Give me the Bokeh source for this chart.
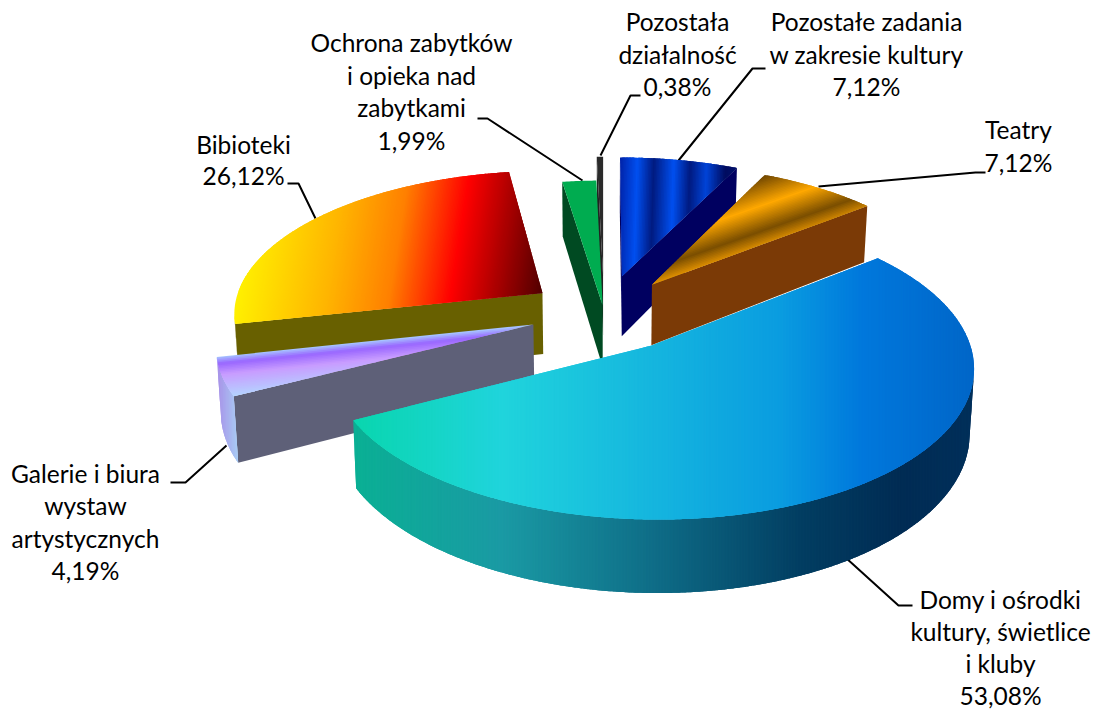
import math
from bokeh.plotting import figure
from bokeh.models import Range1d
from bokeh.core.properties import value
from bokeh.embed import file_html
from bokeh.resources import INLINE

# ---- data (clockwise from 12 o'clock) ----
categories = ["Pozostałe zadania\nw zakresie kultury", "Teatry",
              "Domy i ośrodki\nkultury, świetlice\ni kluby",
              "Galerie i biura\nwystaw\nartystycznych", "Bibioteki",
              "Ochrona zabytków\ni opieka nad\nzabytkami", "Pozostała\ndziałalność"]
shares = [7.12, 7.12, 53.08, 4.19, 26.12, 1.99, 0.38]
explode = [0.27, 0.255, 0.27, 0.24, 0.245, 0.05, 0.27]

# ---- 3-D pie projection ----
CX, CY, RX, RY, H, K, TAPER = 603.5, 312.0, 310.0, 142.5, 62.0, 0.1275, 0.012

def proj(X, Y, z=0.0):
    p = 1.0 / (1.0 + K * Y)
    q = 1.0 - TAPER * z
    return (CX + RX * X * p * q, CY - RY * Y * p + H * p * z)

def rgb(h):
    return tuple(int(h[i:i + 2], 16) for i in (1, 3, 5))

def ramp(stops, f):
    f = min(1.0, max(0.0, f))
    for (f0, c0), (f1, c1) in zip(stops, stops[1:]):
        if f <= f1:
            w = (f - f0) / max(f1 - f0, 1e-9)
            a, b = rgb(c0), rgb(c1)
            return "#%02x%02x%02x" % tuple(round(a[i] + (b[i] - a[i]) * w) for i in range(3))
    return stops[-1][1]

def clip(poly, nx, ny, t, keep_above):
    out = []
    s = 1 if keep_above else -1
    for i in range(len(poly)):
        a, b = poly[i], poly[(i + 1) % len(poly)]
        da = s * (a[0] * nx + a[1] * ny - t)
        db = s * (b[0] * nx + b[1] * ny - t)
        if da >= 0:
            out.append(a)
        if (da >= 0) != (db >= 0):
            w = da / (da - db)
            out.append((a[0] + (b[0] - a[0]) * w, a[1] + (b[1] - a[1]) * w))
    return out

def area(q):
    return 0.5 * sum(q[i][0] * q[(i + 1) % len(q)][1] - q[(i + 1) % len(q)][0] * q[i][1] for i in range(len(q)))

# per-slice styling: top gradient (normal dir, stops), cut colour, rim gradient
styles = [
    dict(n=(1.0, 0.03), top=[(0, "#0022a8"), (.15, "#0050f0"), (.29, "#001a80"), (.46, "#0050f0"),
                             (.60, "#001a80"), (.74, "#0044d8"), (.90, "#000c60"), (1, "#00106a")],
         cut="#000060", rim=[(0, "#000060"), (1, "#000060")]),
    dict(n=(.33, .944), top=[(0, "#6e4500"), (.42, "#ffa800"), (.78, "#7a4e00"), (1, "#e09000")],
         cut="#7b3a06", rim=[(0, "#7b3a06"), (1, "#7b3a06")]),
    dict(n=(1.0, 0.0), top=[(0, "#09d6ae"), (.24, "#20d4dc"), (.43, "#18bcde"), (.69, "#0a9ce0"),
                            (.82, "#0078dc"), (1, "#0066c8")],
         cut="#0a6e88", rim=[(0, "#0ab094"), (.24, "#1a9aa4"), (.48, "#0f6e88"), (.72, "#023e62"),
                             (.88, "#012c54"), (1, "#002f5a")]),
    dict(n=(.1, .995), top=[(0, "#a8ccff"), (.18, "#9966ff"), (.45, "#c89cff"), (1, "#b4d4ff")],
         cut="#5e6078", rim=[(0, "#a890e8"), (1, "#a8ccf4")]),
    dict(n=(.987, .157), top=[(0, "#fff000"), (.3, "#ffb400"), (.5, "#ff8000"), (.7, "#ff0000"), (1, "#500000")],
         cut="#686000", rim=[(0, "#686000"), (1, "#686000")]),
    dict(n=(1.0, 0.0), top=[(0, "#00ac50"), (1, "#00ac50")], cut="#004a22", rim=[(0, "#004a22"), (1, "#004a22")]),
    dict(n=(1.0, 0.0), top=[(0, "#2a2a2a"), (1, "#2a2a2a")], cut="#222222", rim=[(0, "#222222"), (1, "#222222")]),
]

xs, ys, fills = [], [], []

def add(poly, colour):
    xs.append([q[0] for q in poly])
    ys.append([q[1] for q in poly])
    fills.append(colour)

def add_gradient(poly, nx, ny, stops):
    """Fill poly with a linear gradient: overlapping bands, painted in order, leave no seams."""
    ts = [q[0] * nx + q[1] * ny for q in poly]
    t0, t1 = min(ts), max(ts)
    bands = max(1, int((t1 - t0) / 1.5))
    if len(set(c for _, c in stops)) == 1:
        add(poly, stops[0][1])
        return
    for b in range(bands):
        ta, tb = t0 + (t1 - t0) * b / bands, t0 + (t1 - t0) * (b + 1) / bands
        piece = clip(clip(poly, nx, ny, ta, True), nx, ny, tb + 2.0, False)
        if len(piece) >= 3:
            add(piece, ramp(stops, (b + .5) / bands))

# cumulative angles, clockwise from top
edges = [0.0]
for v in shares:
    edges.append(edges[-1] + v / sum(shares) * 2 * math.pi)

def draw_slice(i):
    a0, a1 = edges[i], edges[i + 1]
    mid = 0.5 * (a0 + a1)
    ox, oy = explode[i] * math.sin(mid), explode[i] * math.cos(mid)
    st = styles[i]
    n = max(3, int((a1 - a0) / 0.008))
    angs = [a0 + (a1 - a0) * j / n for j in range(n + 1)]
    top = [proj(ox + math.sin(a), oy + math.cos(a)) for a in angs]
    bot = [proj(ox + math.sin(a), oy + math.cos(a), 1) for a in angs]
    apex, bapex = proj(ox, oy), proj(ox, oy, 1)
    # cut faces
    for q in ([apex, top[0], bot[0], bapex], [top[-1], apex, bapex, bot[-1]]):
        if area(q) < 0:
            add(q, st["cut"])
    # outer wall: only the part that faces the viewer
    front = [j for j in range(n) if area([top[j], top[j + 1], bot[j + 1], bot[j]]) < 0]
    if front:
        j0, j1 = front[0], front[-1] + 1
        wall = top[j0:j1 + 1] + bot[j0:j1 + 1][::-1]
        add_gradient(wall, 1.0, 0.0, st["rim"])
    # top surface
    add_gradient([apex] + top, st["n"][0], st["n"][1], st["top"])

for i in (4, 3, 6, 5, 0, 1, 2):
    draw_slice(i)

p = figure(width=1093, height=710, x_range=Range1d(0, 1093), y_range=Range1d(710, 0),
           output_backend="svg", toolbar_location=None, min_border=0)
p.axis.visible = False
p.grid.visible = False
p.outline_line_color = None

# leader lines
leaders = [
    ([678, 752, 765], [160, 68, 68]),
    ([818, 975, 985], [186, 172, 172]),
    ([845, 898, 912], [557, 605, 605]),
    ([226, 185, 170], [445, 482, 482]),
    ([315, 298, 287], [218, 183, 183]),
    ([582, 487, 477], [180, 118, 118]),
    ([600, 630, 640], [155, 95, 95]),
]
p.multi_line([l[0] for l in leaders], [l[1] for l in leaders], line_color="black", line_width=2)
p.patches(xs, ys, fill_color=fills, line_color=None)

# labels: (centre x, first line y, line step)
anchors = [(866, 21, 32.5), (1018, 129, 33), (1000, 599, 32), (85, 473, 32.3), (243, 144, 31), (411, 42, 32.5), (677, 21, 32.5)]
tx, ty, tt = [], [], []
for name, v, (ax, ay, step) in zip(categories, shares, anchors):
    lines = name.split("\n") + [f"{v:.2f}%".replace(".", ",")]
    for k, t in enumerate(lines):
        tx.append(ax); ty.append(ay + k * step); tt.append(t)
p.text(tx, ty, text=tt, text_font=value("Lato"), text_font_size="24.5px", text_color="black",
       text_align="center", text_baseline="middle")

open("out.html", "w").write(file_html(p, INLINE))
